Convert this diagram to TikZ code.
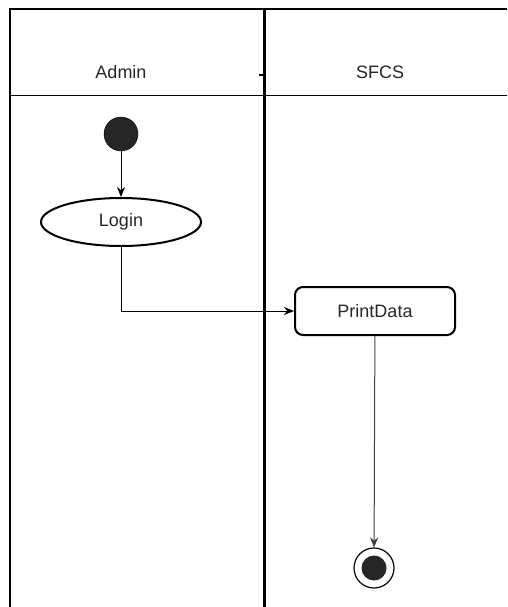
\documentclass[tikz,border=0pt]{standalone}
\usepackage{fontspec}
\setmainfont{Liberation Sans}
\usetikzlibrary{shapes.geometric,arrows.meta}
\begin{document}
\begin{tikzpicture}[x=1pt, y=-1pt,
    every node/.style={font=\fontsize{18}{21}\selectfont, text=black!85},
    flow/.style={-{Stealth[length=10pt,width=8pt]}, line width=1pt},
    action/.style={draw, line width=2pt, rounded corners=8pt, minimum width=160pt, minimum height=48pt},
    startstate/.style={circle, draw, fill=black!85, minimum size=34pt, inner sep=0pt}]
    \useasboundingbox (0,0) rectangle (507,607);

    % 枠
    \draw[line width=2pt] (10,607)--(10,9)--(507,9);
    \draw[line width=1pt] (10,96)--(507,96);
    \draw[line width=3pt] (264,9)--(264,607);
    \draw[line width=1.5pt] (259,75)--(266,75);

    % レーン名
    \node (admin) at (121,72) {Admin};
    \node (sfcs) at (380,72) {SFCS};

    % 状態
    \node[startstate] (start) at (121,134) {};
    \node[ellipse, draw, line width=2pt, minimum width=160pt, minimum height=48pt] (login) at (121,222) {Login};
    \node[action] (print) at (375,311) {PrintData};
    \node[circle, draw, line width=1.2pt, minimum size=40pt, inner sep=0pt] (final) at (374,568) {};
    \node[circle, fill=black!85, minimum size=25pt, inner sep=0pt] (finaldot) at (final.center) {};

    % 矢印
    \draw[flow] (start)--(login);
    \draw[flow] (login.south) |- (print.west);
    \draw[flow, black!75] (print)--(final);

\end{tikzpicture}
\end{document}
